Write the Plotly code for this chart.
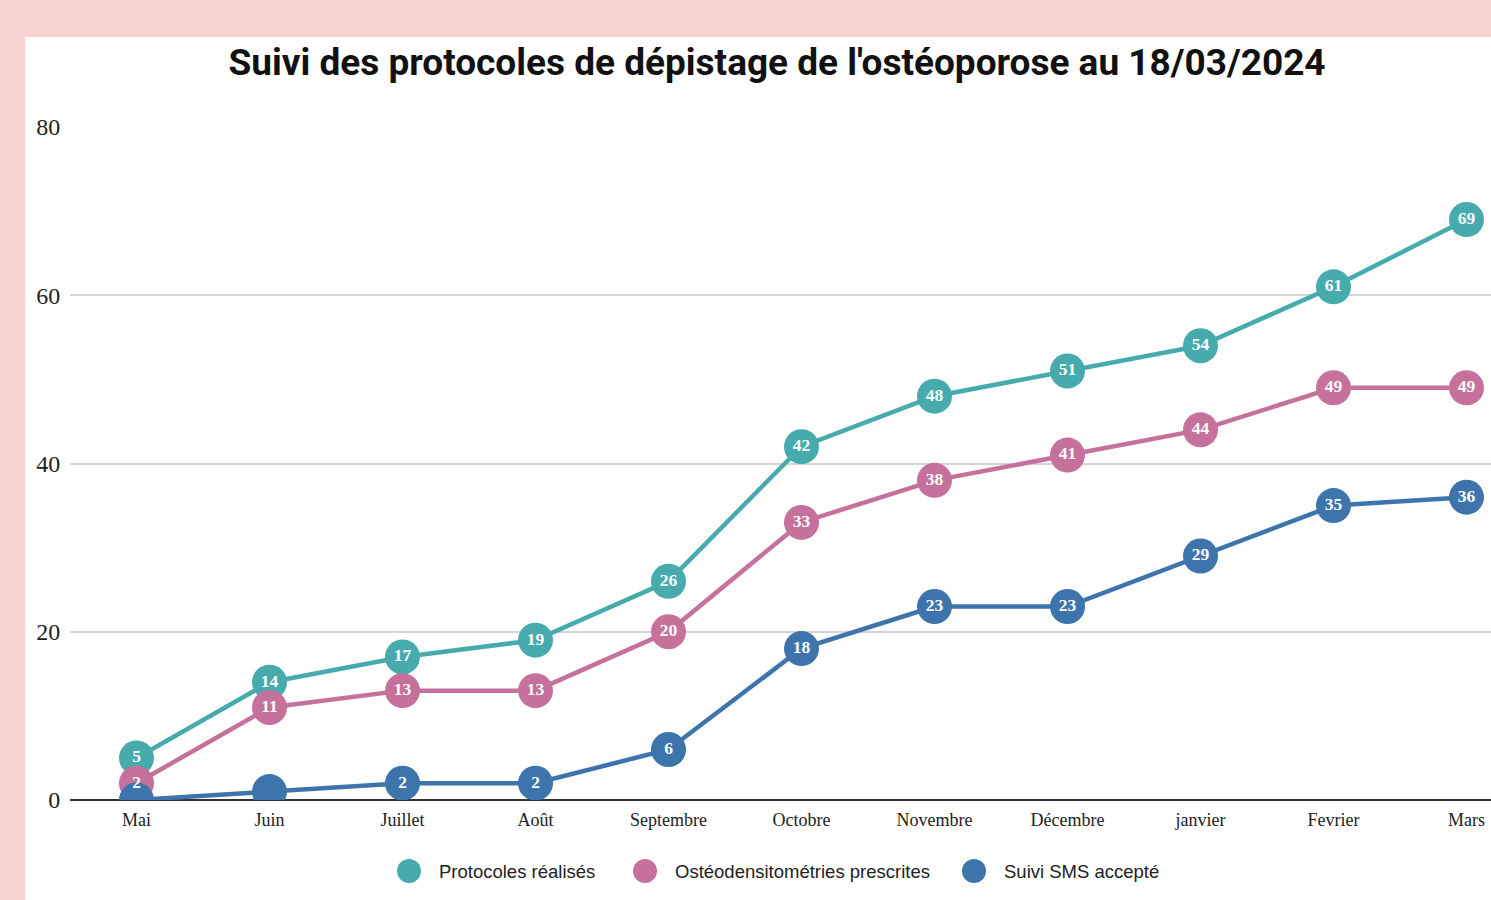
import plotly.graph_objects as go

months = ["Mai", "Juin", "Juillet", "Août", "Septembre", "Octobre", "Novembre",
          "Décembre", "janvier", "Fevrier", "Mars"]
protocoles = [5, 14, 17, 19, 26, 42, 48, 51, 54, 61, 69]
osteo = [2, 11, 13, 13, 20, 33, 38, 41, 44, 49, 49]
sms = [0, 1, 2, 2, 6, 18, 23, 23, 29, 35, 36]
y_ticks = [0, 20, 40, 60, 80]

series = [
    ("Protocoles réalisés", protocoles, "#47abae"),
    ("Ostéodensitométries prescrites", osteo, "#c5719b"),
    ("Suivi SMS accepté", sms, "#3d74ab"),
]

W, H = 1491, 900
L, R, T, B = 70, 0, 127, 100
pw, ph = W - L - R, H - T - B

def px_x(p):
    return (p - L) / pw

def px_y(p):
    return (H - B - p) / ph

fig = go.Figure()
for name, vals, col in series:
    fig.add_trace(go.Scatter(
        x=months, y=vals, mode="lines+markers", name=name,
        line=dict(color=col, width=4.5),
        marker=dict(color=col, size=35),
        showlegend=False, hoverinfo="skip",
    ))
# data labels drawn on top of all markers
for name, vals, col in series:
    fig.add_trace(go.Scatter(
        x=months, y=vals, mode="text", name=name,
        text=[str(v) if v >= 2 else "" for v in vals],
        textposition="middle center",
        textfont=dict(family="Liberation Serif", size=17.5, color="white", weight="bold"),
        showlegend=False, hoverinfo="skip",
    ))

fig.add_shape(type="rect", xref="paper", yref="paper", layer="below",
              x0=px_x(25), x1=px_x(W + 5), y0=px_y(37), y1=px_y(H + 5),
              fillcolor="white", line=dict(width=0))

# custom legend (large circles)
legend_circle_x = [409, 645, 974]
legend_y = 871
r = 12
for (name, vals, col), cx in zip(series, legend_circle_x):
    fig.add_shape(type="circle", xref="paper", yref="paper",
                  x0=px_x(cx - r), x1=px_x(cx + r), y0=px_y(legend_y + r), y1=px_y(legend_y - r),
                  fillcolor=col, line=dict(width=0))
    fig.add_annotation(text=name, xref="paper", yref="paper", showarrow=False,
                       x=px_x(cx + 28), y=px_y(legend_y), xanchor="left", yanchor="middle",
                       font=dict(family="Liberation Sans", size=18.5, color="#222222"))

fig.update_layout(
    width=W, height=H,
    margin=dict(l=L, r=R, t=T, b=B),
    paper_bgcolor="#f6d3d1",
    plot_bgcolor="rgba(0,0,0,0)",
    showlegend=False,
    title=dict(text="<b>Suivi des protocoles de dépistage de l'ostéoporose au 18/03/2024</b>",
               x=px_x(777), xref="paper", xanchor="center",
               y=1 - 62 / H, yref="container", yanchor="middle",
               font=dict(family="Roboto", size=37, color="#111111")),
    xaxis=dict(range=[-0.5, -0.5 + pw / 133.0], showgrid=False,
               tickfont=dict(family="Liberation Serif", size=18, color="#222222"),
               ticks="outside", ticklen=3, tickcolor="rgba(0,0,0,0)",
               showline=False, zeroline=False),
    yaxis=dict(range=[0, 80], tickvals=y_ticks, showgrid=True, gridcolor="#d4d4d4",
               gridwidth=1.5, zeroline=True, zerolinecolor="#333333", zerolinewidth=2,
               tickfont=dict(family="Liberation Serif", size=24, color="#222222"),
               ticks="outside", ticklen=4, tickcolor="rgba(0,0,0,0)"),
)
fig.write_html("out.html", config={"displayModeBar": False},
               post_script="document.body.style.margin='0';document.body.style.background='#f6d3d1';")
